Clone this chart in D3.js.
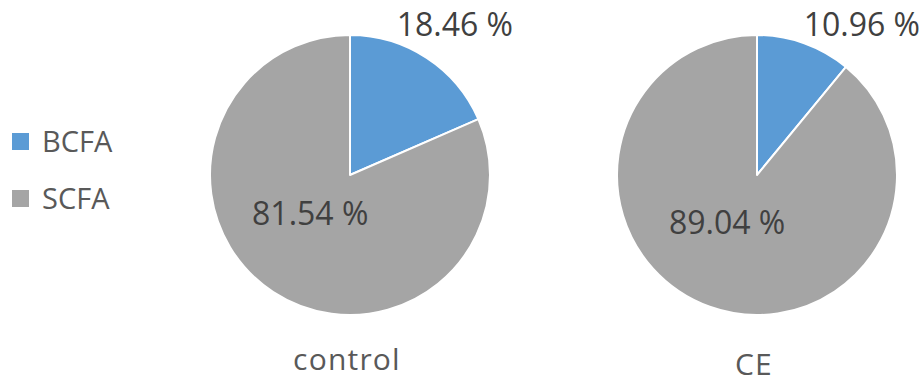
<!DOCTYPE html>
<html>
<head>
<meta charset="utf-8">
<script src="https://cdn.jsdelivr.net/npm/d3@7"></script>
<style>
  html, body { margin: 0; padding: 0; background: #fff; }
  svg { display: block; font-family: "Open Sans", "Noto Sans", sans-serif; }
</style>
</head>
<body>
<svg id="chart" width="921" height="384"></svg>
<script>
// Fatty acid composition (percent of total)
const groups = ["control", "CE"];
const categories = ["BCFA", "SCFA"];
const bcfaValues = [18.46, 10.96];
const scfaValues = [81.54, 89.04];

const colors = { BCFA: "#5B9BD5", SCFA: "#A5A5A5" };

const svg = d3.select("#chart");

// Panel layout: pie centres and title baselines
const panels = [
  { cx: 350, cy: 175, titleY: 370 },
  { cx: 757, cy: 175, titleY: 375 }
];
const R = 140;

const pie = d3.pie().sort(null).value(d => d.value);
const arc = d3.arc().innerRadius(0).outerRadius(R);

const fmt = v => v.toFixed(2) + " %";

groups.forEach((g, gi) => {
  const p = panels[gi];
  const data = categories.map((c, ci) => ({
    key: c,
    value: ci === 0 ? bcfaValues[gi] : scfaValues[gi]
  }));
  const arcs = pie(data);
  const gEl = svg.append("g").attr("transform", `translate(${p.cx},${p.cy})`);

  gEl.selectAll("path.slice")
    .data(arcs)
    .join("path")
    .attr("class", "slice")
    .attr("d", arc)
    .attr("fill", d => colors[d.data.key])
    .attr("stroke", "#fff")
    .attr("stroke-width", 2)
    .attr("stroke-linejoin", "round");

  // Outside label for the small slice: pushed to the top of the plot,
  // then slid right until its lower-left corner clears the pie edge.
  const small = arcs[0];
  const labelSize = 32;
  const outerBaseline = 36 - p.cy;
  const gap = 6;
  const dy = -outerBaseline;
  const xLeft = Math.sqrt(Math.max(0, (R + gap) ** 2 - dy * dy));
  gEl.append("text")
    .attr("x", xLeft + 2)
    .attr("y", outerBaseline)
    .attr("font-size", labelSize)
    .attr("fill", "#404040")
    .text(fmt(small.data.value));

  // Inside label for the large slice
  const big = arcs[1];
  const mid = (big.startAngle + big.endAngle) / 2 + (15 * Math.PI / 180);
  const rl = 56;
  const lx = rl * Math.sin(mid);
  const ly = -rl * Math.cos(mid);
  gEl.append("text")
    .attr("x", lx + 2)
    .attr("y", ly)
    .attr("text-anchor", "middle")
    .attr("dominant-baseline", "central")
    .attr("font-size", labelSize)
    .attr("fill", "#404040")
    .text(fmt(big.data.value));

  // Group title
  svg.append("text")
    .attr("x", p.cx - 3)
    .attr("y", p.titleY)
    .attr("text-anchor", "middle")
    .attr("font-size", 30)
    .attr("letter-spacing", 1.2)
    .attr("fill", "#595959")
    .text(g);
});

// Legend
const legend = svg.append("g").attr("transform", "translate(12,133)");
const item = legend.selectAll("g.item")
  .data(categories)
  .join("g")
  .attr("class", "item")
  .attr("transform", (d, i) => `translate(0,${i * 57})`);
item.append("rect")
  .attr("width", 17)
  .attr("height", 17)
  .attr("fill", d => colors[d]);
item.append("text")
  .attr("x", 30)
  .attr("y", 19)
  .attr("font-size", 29)
  .attr("fill", "#595959")
  .text(d => d);
</script>
</body>
</html>
